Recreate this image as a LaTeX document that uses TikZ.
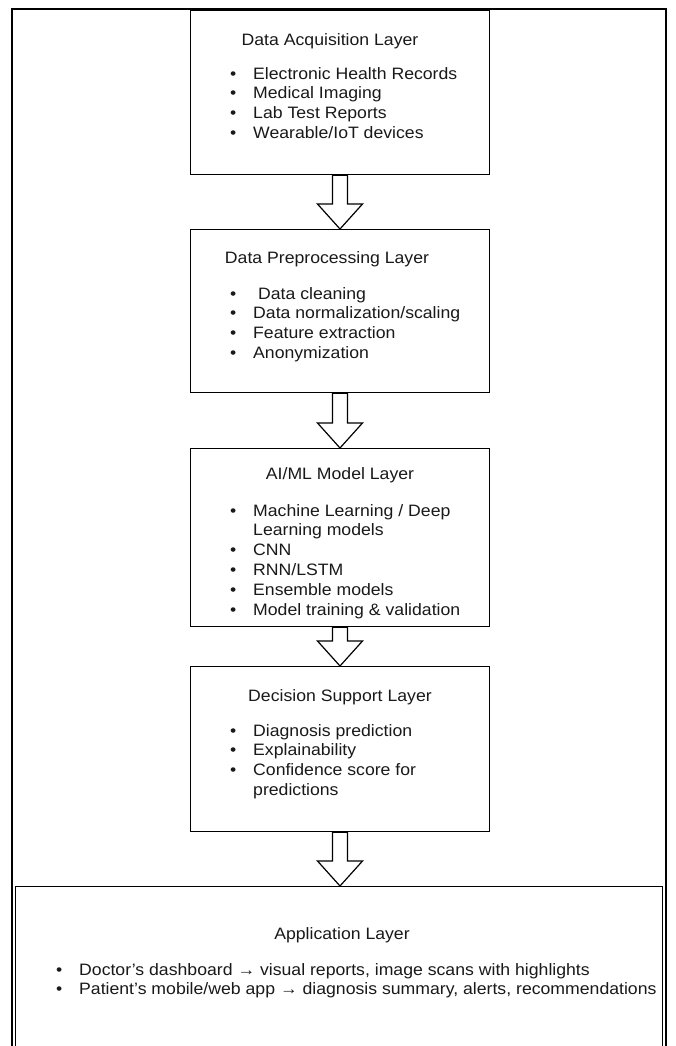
\documentclass[tikz,border=0pt]{standalone}
\usepackage{fontspec}
\setmainfont{Liberation Sans}[FakeStretch=1.07]
\usetikzlibrary{calc}

\tikzset{
    layer/.style={draw, line width=1.2pt, minimum width=299pt, anchor=north, inner sep=0pt},
    frame/.style={draw, line width=2pt},
    title/.style={anchor=base, inner sep=0pt, text=black!90, font=\fontsize{16.5}{19.8}\selectfont},
    items/.style={anchor=north west, align=left, inner sep=0pt, text=black!90, font=\fontsize{16.5}{19.8}\selectfont},
    blockarrow/.style={draw, line width=1.2pt, fill=white}
}
\newcommand{\bul}{\makebox[23pt][l]{\textbullet}}
\newcommand{\layerarrow}[2]{%
    \draw[blockarrow] let \p1=(#1.south), \p2=(#2.north) in
        (\x1-7.5pt,\y1) -- (\x1-7.5pt,\y2+25pt) -- (\x1-22.5pt,\y2+25pt) -- (\x1,\y2)
        -- (\x1+22.5pt,\y2+25pt) -- (\x1+7.5pt,\y2+25pt) -- (\x1+7.5pt,\y1) -- cycle;}

\begin{document}
\begin{tikzpicture}[x=1pt, y=-1pt]
        \useasboundingbox (0,0) rectangle (675,1046);
        \clip (0,0) rectangle (675,1046);

        \draw[frame] (12,9) rectangle (666,1070);

        \node[layer, minimum height=164pt] (acq) at (340,10) {};
        \node[layer, minimum height=163pt] (pre) at (340,229) {};
        \node[layer, minimum height=178pt] (model) at (340,448) {};
        \node[layer, minimum height=165pt] (decision) at (340,666) {};
        \node[layer, minimum width=647pt, minimum height=200pt, line width=0.9pt] (app) at (338.5,886) {};

        \node[title] (acqtitle) at (330,46) {Data Acquisition Layer};
        \node[items] (acqitems) at (230,67) {\bul Electronic Health Records\\ \bul Medical Imaging\\ \bul Lab Test Reports\\ \bul Wearable/IoT devices};

        \node[title] (pretitle) at (327,263) {Data Preprocessing Layer};
        \node[items] (preitems) at (230,287) {\bul\ Data cleaning\\ \bul Data normalization/scaling\\ \bul Feature extraction\\ \bul Anonymization};

        \node[title] (modeltitle) at (340,479) {AI/ML Model Layer};
        \node[items] (modelitems) at (230,504) {\bul Machine Learning / Deep\\ \hspace*{23pt}Learning models\\ \bul CNN\\ \bul RNN/LSTM\\ \bul Ensemble models\\ \bul Model training \& validation};

        \node[title] (decisiontitle) at (340,701) {Decision Support Layer};
        \node[items] (decisionitems) at (230,724) {\bul Diagnosis prediction\\ \bul Explainability\\ \bul Confidence score for\\ \hspace*{23pt}predictions};

        \node[title] (apptitle) at (342,939) {Application Layer};
        \node[items] (appitems) at (56,963) {\bul Doctor’s dashboard → visual reports, image scans with highlights\\ \bul Patient’s mobile/web app → diagnosis summary, alerts, recommendations};

        \layerarrow{acq}{pre}
        \layerarrow{pre}{model}
        \layerarrow{model}{decision}
        \layerarrow{decision}{app}
    \end{tikzpicture}
\end{document}
